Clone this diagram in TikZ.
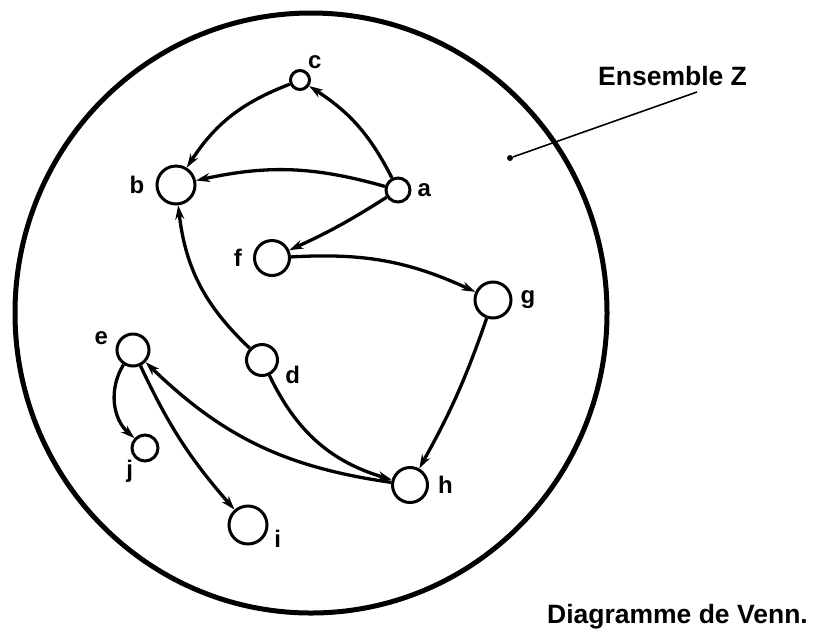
\documentclass[tikz,border=0pt]{standalone}
\usepackage{fontspec}
\setmainfont{Liberation Sans}
\usetikzlibrary{arrows.meta}

\begin{document}
\begin{tikzpicture}[x=1pt,y=1pt,>={Stealth[length=14pt,width=9pt]},
  elem/.style={circle,draw,line width=3pt,inner sep=0pt},
  lab/.style={font=\fontsize{24}{28}\selectfont\bfseries,inner sep=0pt},
  title/.style={font=\fontsize{26.5}{30}\selectfont\bfseries,inner sep=0pt},
  rel/.style={->,line width=3.3pt}]
\useasboundingbox (0,0) rectangle (813,-633);
% the set Z
\draw[line width=5pt] (311,-313) ellipse (296 and 300);
\node[circle,fill,inner sep=0pt,minimum size=6pt] (zdot) at (510,-158) {};
\coordinate (ztip) at (697,-92);
\draw[line width=1.6pt] (zdot) -- (ztip);
\node[title,anchor=base west] (ens) at (598,-85) {Ensemble Z};
% elements
\node[elem,minimum size=19pt,label={[lab,label distance=3pt]55:c}] (c) at (300,-80) {};
\node[elem,minimum size=24pt,label={[lab,label distance=6pt]right:a}] (a) at (398,-190) {};
\node[elem,minimum size=38pt,label={[lab,label distance=11pt]left:b}] (b) at (176,-185) {};
\node[elem,minimum size=35pt,label={[lab,label distance=11pt]left:f}] (f) at (272,-258) {};
\node[elem,minimum size=36pt,label={[lab,label distance=8pt]right:g}] (g) at (493,-300) {};
\node[elem,minimum size=31pt,label={[lab,label distance=7pt]-15:d}] (d) at (262,-360) {};
\node[elem,minimum size=32pt,label={[lab,label distance=8pt]168:e}] (e) at (133,-350) {};
\node[elem,minimum size=35pt,label={[lab,label distance=9pt]right:h}] (h) at (410,-485) {};
\node[elem,minimum size=26pt,label={[lab,label distance=2pt]225:j}] (j) at (145,-448) {};
\node[elem,minimum size=38pt,label={[lab,label distance=6pt]-10:i}] (i) at (248,-525) {};
% relations
\draw[rel] (a) to[bend right=15] (c);
\draw[rel] (c) to[bend right=18] (b);
\draw[rel] (a) to[bend right=14] (b);
\draw[rel] (a) to[bend left=4] (f);
\draw[rel] (f) to[bend left=14] (g);
\draw[rel] (d) to[bend left=20] (b);
\draw[rel] (g) to[bend left=5] (h);
\draw[rel] (d) to[bend right=24] (h);
\draw[rel] (h) to[bend left=18] (e);
\draw[rel] (e) to[bend right=40] (j);
\draw[rel] (e) to[bend right=8] (i);
\node[title,anchor=base east] (cap) at (808,-623) {Diagramme de Venn.};
\end{tikzpicture}
\end{document}
